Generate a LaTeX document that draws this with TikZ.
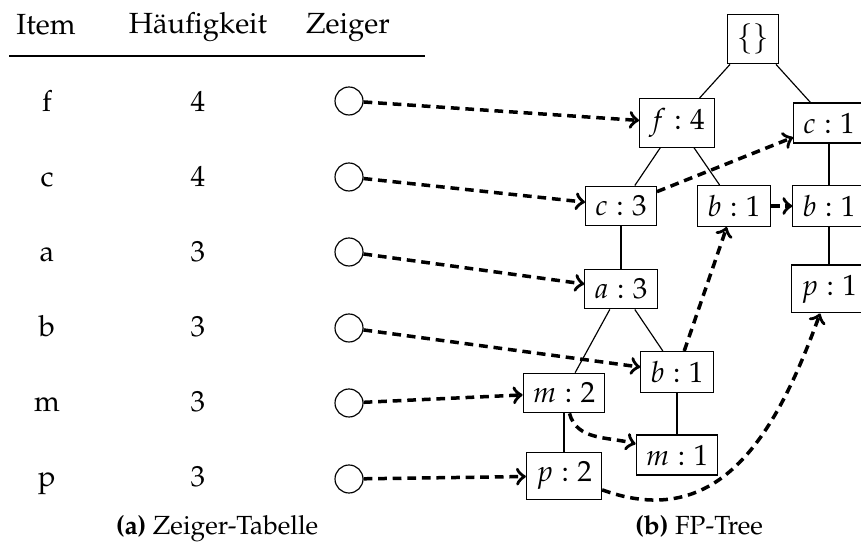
\documentclass[tikz,border=0pt]{standalone}
\usepackage[T1]{fontenc}
\usepackage{mathpazo}
\begin{document}
\begin{tikzpicture}[x=0.343pt,y=-0.343pt,
  fpnode/.style={draw, rectangle, inner sep=0.333em, line width=0.4pt},
  ptr/.style={circle, draw, minimum size=9.6pt, inner sep=0pt, line width=0.4pt},
  link/.style={->, densely dashed, line width=1.2pt},
  treeedge/.style={line width=0.4pt},
  cell/.style={anchor=base, inner sep=0pt},
  captext/.style={anchor=base, inner sep=0pt, font=\fontsize{9}{11}\selectfont}]
\useasboundingbox (0,0) rectangle (861,543);

% --- table of item pointers ---
\node[cell] (hItem) at (46,35) {Item};
\node[cell] (hFreq) at (198,34) {H\"aufigkeit};
\node[cell] (hPtr)  at (348,34) {Zeiger};
\coordinate (ruleL) at (9,56);
\coordinate (ruleR) at (425,56);
\draw[line width=0.5pt] (ruleL) -- (ruleR);

\node[cell] (iF) at (47,112) {f};  \node[cell] (nF) at (198,112) {4};
\node[cell] (iC) at (47,187) {c};  \node[cell] (nC) at (198,187) {4};
\node[cell] (iA) at (47,262) {a};  \node[cell] (nA) at (198,262) {3};
\node[cell] (iB) at (47,337) {b};  \node[cell] (nB) at (198,337) {3};
\node[cell] (iM) at (47,412) {m};  \node[cell] (nM) at (198,412) {3};
\node[cell] (iP) at (47,487) {p};  \node[cell] (nP) at (198,487) {3};

\node[ptr] (zF) at (349,101) {};
\node[ptr] (zC) at (349,177) {};
\node[ptr] (zA) at (349,252) {};
\node[ptr] (zB) at (349,328) {};
\node[ptr] (zM) at (349,403) {};
\node[ptr] (zP) at (349,479) {};

\node[captext] (capA) at (217,535) {\textbf{(a)} Zeiger-Tabelle};

% --- FP-tree ---
\node[fpnode] (root) at (753,39)  {$\{\}$};
\node[fpnode] (f4)   at (677,123) {$f:4$};
\node[fpnode] (c1)   at (829,123) {$c:1$};
\node[fpnode] (c3)   at (621,206) {$c:3$};
\node[fpnode] (b1m)  at (734,206) {$b:1$};
\node[fpnode] (b1r)  at (829,206) {$b:1$};
\node[fpnode] (a3)   at (621,289) {$a:3$};
\node[fpnode] (p1)   at (829,289) {$p:1$};
\node[fpnode] (b1l)  at (677,372) {$b:1$};
\node[fpnode] (m2)   at (564,393) {$m:2$};
\node[fpnode] (m1)   at (677,455) {$m:1$};
\node[fpnode] (p2)   at (564,476) {$p:2$};

\draw[treeedge] (root) -- (f4);
\draw[treeedge] (root) -- (c1);
\draw[treeedge] (f4) -- (c3);
\draw[treeedge] (f4) -- (b1m);
\draw[treeedge] (c3) -- (a3);
\draw[treeedge] (a3) -- (m2);
\draw[treeedge] (a3) -- (b1l);
\draw[treeedge] (b1l) -- (m1);
\draw[treeedge] (m2) -- (p2);
\draw[treeedge] (c1) -- (b1r);
\draw[treeedge] (b1r) -- (p1);

\node[captext] (capB) at (699,535) {\textbf{(b)} FP-Tree};

% --- pointers from the table into the tree ---
\draw[link] (zF) -- (f4);
\draw[link] (zC) -- (c3);
\draw[link] (zA) -- (a3);
\draw[link] (zB) -- (b1l);
\draw[link] (zM) -- (m2);
\draw[link] (zP) -- (p2);

% --- node links between equal items ---
\draw[link] (c3) -- (c1);
\draw[link] (b1m) -- (b1r);
\draw[link] (b1l) -- (b1m);
\draw[link] (m2) to[out=-75,in=165] (m1);
\draw[link] (p2) to[out=-20,in=-110,looseness=1.15] (p1);
\end{tikzpicture}
\end{document}
